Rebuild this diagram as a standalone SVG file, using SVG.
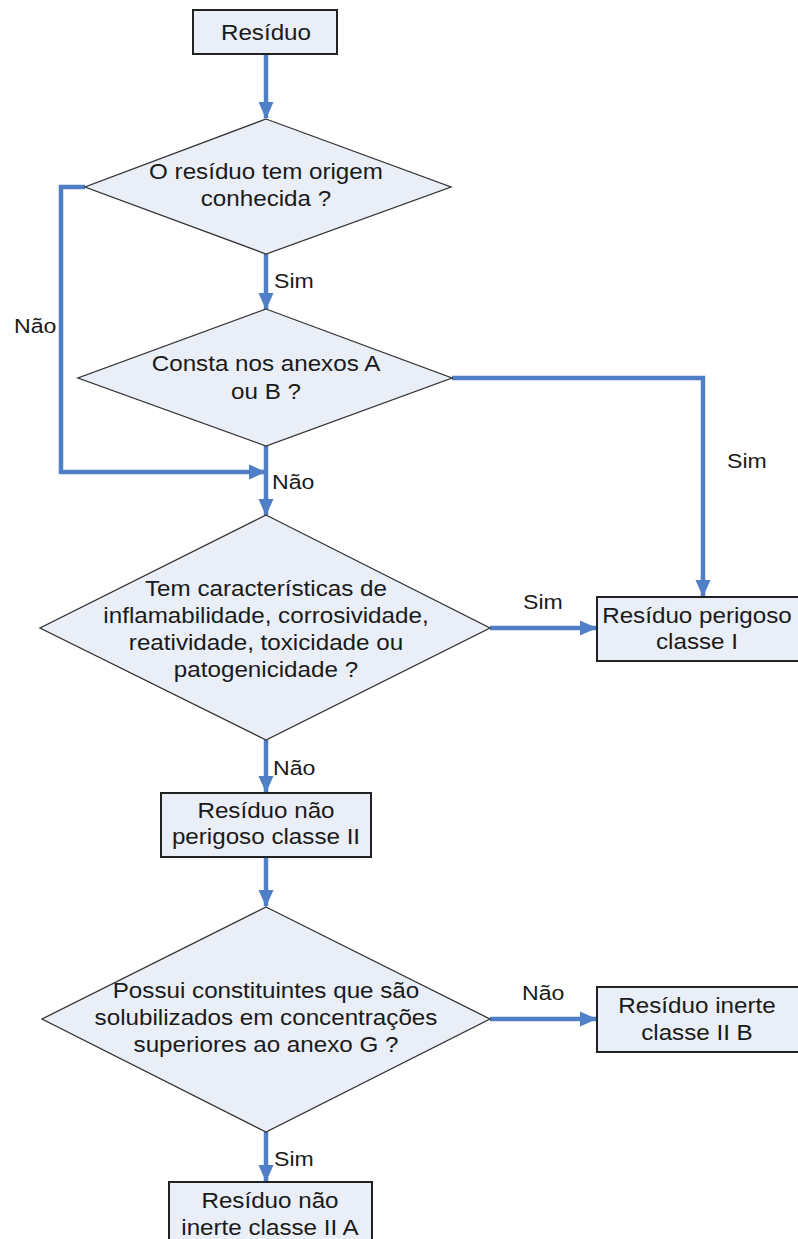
<svg xmlns="http://www.w3.org/2000/svg" width="798" height="1239" viewBox="0 0 798 1239">
<defs>
<style>
.box{fill:#e9eef7;stroke:#222;stroke-width:2}
.dia{fill:#e9eef7;stroke:#333;stroke-width:1.3}
.t{font-family:"Liberation Sans",Arial,sans-serif;font-size:22px;fill:#1a1a1a;text-anchor:middle}
.l{font-family:"Liberation Sans",Arial,sans-serif;font-size:21px;fill:#1a1a1a}
.c{fill:none;stroke:#4f7fc6;stroke-width:4.5}
</style>
<marker id="ah" markerUnits="userSpaceOnUse" markerWidth="18" markerHeight="18" viewBox="0 0 18 18" refX="16" refY="9" orient="auto">
<path d="M0,1.5 L17,9 L0,16.5 Z" fill="#4f7fc6"/>
</marker>
</defs>
<rect width="798" height="1239" fill="#ffffff"/>
<g id="connectors">
<path class="c" d="M266,54 V118" marker-end="url(#ah)"/>
<path class="c" d="M266,254 V309" marker-end="url(#ah)"/>
<path class="c" d="M85,187 H61 V472 H265" marker-end="url(#ah)"/>
<path class="c" d="M452,378 H703 V596" marker-end="url(#ah)"/>
<path class="c" d="M266,446 V515" marker-end="url(#ah)"/>
<path class="c" d="M490,628 H596" marker-end="url(#ah)"/>
<path class="c" d="M266,740 V792" marker-end="url(#ah)"/>
<path class="c" d="M266,857 V906" marker-end="url(#ah)"/>
<path class="c" d="M490,1019 H596" marker-end="url(#ah)"/>
<path class="c" d="M266,1132 V1181" marker-end="url(#ah)"/>
<text class="l" x="274" y="288" transform="translate(274 0) scale(1.1 1) translate(-274 0)">Sim</text>
<text class="l" x="14" y="333" transform="translate(14 0) scale(1.1 1) translate(-14 0)">Não</text>
<text class="l" x="727" y="468" transform="translate(727 0) scale(1.1 1) translate(-727 0)">Sim</text>
<text class="l" x="272" y="489" transform="translate(272 0) scale(1.1 1) translate(-272 0)">Não</text>
<text class="l" x="523" y="609" transform="translate(523 0) scale(1.1 1) translate(-523 0)">Sim</text>
<text class="l" x="273" y="775" transform="translate(273 0) scale(1.1 1) translate(-273 0)">Não</text>
<text class="l" x="522" y="1000" transform="translate(522 0) scale(1.1 1) translate(-522 0)">Não</text>
<text class="l" x="274" y="1166" transform="translate(274 0) scale(1.1 1) translate(-274 0)">Sim</text>
</g>
<g id="n_residuo">
<rect class="box" x="193" y="10" width="144" height="44"/>
<g transform="translate(266 0) scale(1.1 1) translate(-266 0)">
<text class="t" x="266" y="40">Resíduo</text>
</g>
</g>
<g id="n_origem">
<polygon class="dia" points="266,119 451,187 266,254 85,187"/>
<g transform="translate(266 0) scale(1.1 1) translate(-266 0)">
<text class="t" x="266" y="179">O resíduo tem origem</text>
<text class="t" x="266" y="206">conhecida ?</text>
</g>
</g>
<g id="n_anexos">
<polygon class="dia" points="266,309 452,378 266,446 78,378"/>
<g transform="translate(266 0) scale(1.1 1) translate(-266 0)">
<text class="t" x="266" y="371">Consta nos anexos A</text>
<text class="t" x="266" y="399">ou B ?</text>
</g>
</g>
<g id="n_caract">
<polygon class="dia" points="266,515 490,628 266,740 40,628"/>
<g transform="translate(266 0) scale(1.1 1) translate(-266 0)">
<text class="t" x="266" y="596">Tem características de</text>
<text class="t" x="266" y="623">inflamabilidade, corrosividade,</text>
<text class="t" x="266" y="650">reatividade, toxicidade ou</text>
<text class="t" x="266" y="677">patogenicidade ?</text>
</g>
</g>
<g id="n_classe1">
<rect class="box" x="597" y="597" width="202" height="64"/>
<g transform="translate(697 0) scale(1.1 1) translate(-697 0)">
<text class="t" x="697" y="623">Resíduo perigoso</text>
<text class="t" x="697" y="649">classe I</text>
</g>
</g>
<g id="n_classe2">
<rect class="box" x="161" y="793" width="210" height="64"/>
<g transform="translate(266 0) scale(1.1 1) translate(-266 0)">
<text class="t" x="266" y="818">Resíduo não</text>
<text class="t" x="266" y="844">perigoso classe II</text>
</g>
</g>
<g id="n_solub">
<polygon class="dia" points="266,907 490,1019 266,1132 42,1019"/>
<g transform="translate(266 0) scale(1.1 1) translate(-266 0)">
<text class="t" x="266" y="998">Possui constituintes que são</text>
<text class="t" x="266" y="1025">solubilizados em concentrações</text>
<text class="t" x="266" y="1052">superiores ao anexo G ?</text>
</g>
</g>
<g id="n_classe2b">
<rect class="box" x="597" y="987" width="202" height="65"/>
<g transform="translate(697 0) scale(1.1 1) translate(-697 0)">
<text class="t" x="697" y="1013">Resíduo inerte</text>
<text class="t" x="697" y="1040">classe II B</text>
</g>
</g>
<g id="n_classe2a">
<rect class="box" x="169" y="1182" width="203" height="70"/>
<g transform="translate(270 0) scale(1.1 1) translate(-270 0)">
<text class="t" x="270" y="1208">Resíduo não</text>
<text class="t" x="270" y="1235">inerte classe II A</text>
</g>
</g>
</svg>
